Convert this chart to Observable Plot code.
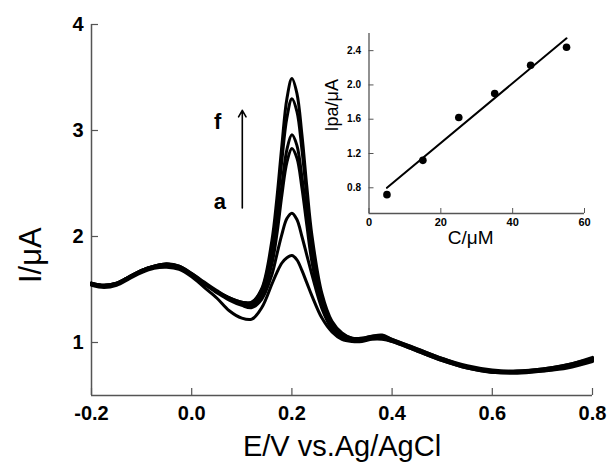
<!DOCTYPE html>
<html>
<head>
<meta charset="utf-8">
<script src="https://cdn.jsdelivr.net/npm/d3@7"></script>
<script src="https://cdn.jsdelivr.net/npm/@observablehq/plot@0.6"></script>
<style>
  body { margin: 0; background: #fff; }
  #chart { position: relative; width: 609px; height: 465px; font-family: "Liberation Sans", Arial, sans-serif; }
  #inset { position: absolute; left: 320px; top: 20px; }
</style>
</head>
<body>
<div id="chart"><div id="inset"></div></div>
<script>
// Potential grid (V vs. Ag/AgCl) shared by all six voltammograms
const potential = [-0.2,-0.175,-0.15,-0.125,-0.1,-0.075,-0.05,-0.025,0,0.025,0.05,0.075,0.1,0.12,0.14,0.16,0.17,0.18,0.19,0.2,0.21,0.22,0.23,0.24,0.26,0.28,0.3,0.32,0.34,0.36,0.38,0.4,0.45,0.5,0.55,0.6,0.65,0.7,0.75,0.8];

// Current (µA) for scans a–f, increasing analyte concentration
const currentA = [1.54,1.52,1.54,1.60,1.66,1.70,1.71,1.69,1.62,1.52,1.42,1.30,1.23,1.22,1.33,1.55,1.66,1.75,1.80,1.82,1.78,1.68,1.56,1.44,1.23,1.10,1.03,1.01,1.01,1.03,1.03,1.01,0.92,0.83,0.76,0.72,0.71,0.73,0.76,0.82];
const currentB = [1.55,1.53,1.55,1.61,1.67,1.71,1.72,1.70,1.63,1.55,1.47,1.40,1.35,1.33,1.41,1.64,1.83,2.02,2.17,2.22,2.16,2.00,1.82,1.64,1.32,1.13,1.05,1.02,1.02,1.04,1.04,1.01,0.92,0.83,0.76,0.72,0.72,0.73,0.77,0.83];
const currentC = [1.55,1.53,1.55,1.61,1.67,1.71,1.73,1.71,1.64,1.56,1.48,1.41,1.36,1.35,1.44,1.74,2.02,2.39,2.70,2.83,2.74,2.46,2.10,1.76,1.34,1.14,1.06,1.03,1.03,1.05,1.05,1.02,0.93,0.84,0.77,0.72,0.72,0.74,0.78,0.84];
const currentD = [1.56,1.54,1.56,1.62,1.68,1.72,1.74,1.71,1.64,1.56,1.48,1.42,1.37,1.36,1.47,1.80,2.10,2.48,2.82,2.96,2.86,2.56,2.19,1.83,1.37,1.15,1.07,1.03,1.03,1.05,1.06,1.02,0.93,0.84,0.77,0.73,0.72,0.74,0.78,0.84];
const currentE = [1.56,1.54,1.56,1.62,1.68,1.72,1.74,1.72,1.65,1.56,1.48,1.42,1.38,1.38,1.50,1.90,2.25,2.72,3.12,3.30,3.18,2.82,2.37,1.95,1.42,1.18,1.08,1.04,1.04,1.06,1.06,1.03,0.94,0.85,0.77,0.73,0.73,0.75,0.79,0.85];
const currentF = [1.56,1.54,1.56,1.62,1.68,1.72,1.74,1.72,1.65,1.57,1.49,1.42,1.38,1.38,1.51,1.96,2.36,2.86,3.30,3.49,3.35,2.96,2.46,2.01,1.46,1.20,1.09,1.04,1.04,1.06,1.07,1.03,0.94,0.85,0.78,0.74,0.73,0.75,0.79,0.86];
const scanNames = ["a","b","c","d","e","f"];

// Main axis ticks
const xTicks = [-0.2, 0, 0.2, 0.4, 0.6, 0.8];
const yTicks = [1, 2, 3, 4];

// Calibration inset: concentration (µM) vs. anodic peak current (µA)
const concentration = [5, 15, 25, 35, 45, 55];
const peakCurrent = [0.72, 1.12, 1.62, 1.90, 2.23, 2.44];
const insetXTicks = [0, 20, 40, 60];
const insetYTicks = [0.8, 1.2, 1.6, 2.0, 2.4];

// Arrow marking the direction a → f
const arrowE = 0.101, arrowFrom = 2.27, arrowTo = 3.19;

const font = "Liberation Sans, Arial, Helvetica, sans-serif";
const axisColor = "#555";

const curves = [currentA, currentB, currentC, currentD, currentE, currentF];
const rows = curves.flatMap((vals, k) =>
  vals.map((v, i) => ({scan: scanNames[k], E: potential[i], I: v})));

// ---- main voltammogram ----
const W = 609, H = 465, mL = 91, mR = 17, mT = 24, mB = 70;
const frameW = W - mL - mR, frameH = H - mT - mB;

const main = Plot.plot({
  width: W, height: H,
  marginLeft: mL, marginRight: mR, marginTop: mT, marginBottom: mB,
  x: {domain: [-0.2, 0.8], label: null},
  y: {domain: [0.5, 4], label: null},
  style: {fontFamily: font, background: "transparent", color: "black"},
  marks: [
    Plot.ruleX([-0.2], {stroke: axisColor, strokeWidth: 1.5}),
    Plot.ruleY([0.5], {stroke: axisColor, strokeWidth: 1.5}),
    Plot.tickX(xTicks, {x: d => d, stroke: axisColor, strokeWidth: 1.2, insetTop: frameH - 7}),
    Plot.tickY(yTicks, {y: d => d, stroke: axisColor, strokeWidth: 1.2, insetRight: frameW - 7}),
    Plot.axisX(xTicks, {tickSize: 0, tickPadding: 10, tickFormat: d => d.toFixed(1), fontSize: 20, fontWeight: "bold", label: null}),
    Plot.axisY(yTicks, {tickSize: 0, tickPadding: 8, tickFormat: d => String(d), fontSize: 20, fontWeight: "bold", label: null}),
    Plot.line(rows, {x: "E", y: "I", z: "scan", stroke: "black", strokeWidth: 3, curve: "catmull-rom"}),
    Plot.arrow([{E: arrowE, from: arrowFrom, to: arrowTo}], {
      x1: "E", x2: "E", y1: "from", y2: "to", stroke: "black", strokeWidth: 1.6, headLength: 7
    }),
    Plot.text([{E: 0.052, I: 3.08, t: scanNames[5]}], {x: "E", y: "I", text: "t", fontSize: 22, fontWeight: "bold"}),
    Plot.text([{E: 0.056, I: 2.33, t: scanNames[0]}], {x: "E", y: "I", text: "t", fontSize: 22, fontWeight: "bold"}),
    Plot.text(["E/V vs.Ag/AgCl"], {frameAnchor: "bottom", dy: 60, fontSize: 29}),
    Plot.text(["I/\u03BCA"], {frameAnchor: "left", dx: -60, dy: 73, rotate: -90, fontSize: 31})
  ]
});
document.getElementById("chart").prepend(main);

// ---- calibration inset ----
const iW = 280, iH = 240, iL = 48.5, iR = 16, iT = 13, iB = 47;
const iFrameW = iW - iL - iR, iFrameH = iH - iT - iB;
const points = concentration.map((c, i) => ({c, ipa: peakCurrent[i]}));

const inset = Plot.plot({
  width: iW, height: iH,
  marginLeft: iL, marginRight: iR, marginTop: iT, marginBottom: iB,
  x: {domain: [0, 60], label: null},
  y: {domain: [0.5, 2.6], label: null},
  style: {fontFamily: font, background: "transparent", color: "black"},
  marks: [
    Plot.ruleX([0], {stroke: axisColor, strokeWidth: 1.3}),
    Plot.ruleY([0.5], {stroke: axisColor, strokeWidth: 1.3}),
    Plot.tickX(insetXTicks, {x: d => d, stroke: axisColor, insetTop: iFrameH - 5}),
    Plot.tickY(insetYTicks, {y: d => d, stroke: axisColor, insetRight: iFrameW - 5}),
    Plot.axisX(insetXTicks, {tickSize: 0, tickPadding: 5, tickFormat: d => String(d), fontSize: 11, fontWeight: "bold", label: null}),
    Plot.axisY(insetYTicks, {tickSize: 0, tickPadding: 8, tickFormat: d => d.toFixed(1), fontSize: 10, fontWeight: "bold", label: null}),
    Plot.linearRegressionY(points, {x: "c", y: "ipa", stroke: "black", strokeWidth: 2, ci: 0}),
    Plot.dot(points, {x: "c", y: "ipa", r: 3.8, fill: "black", stroke: "none"}),
    Plot.text(["C/\u03BCM"], {frameAnchor: "bottom", dx: -6, dy: 30, fontSize: 19}),
    Plot.text(["Ipa/\u03BCA"], {frameAnchor: "left", dx: -37, dy: 8, rotate: -90, fontSize: 18})
  ]
});
document.getElementById("inset").append(inset);
</script>
</body>
</html>
